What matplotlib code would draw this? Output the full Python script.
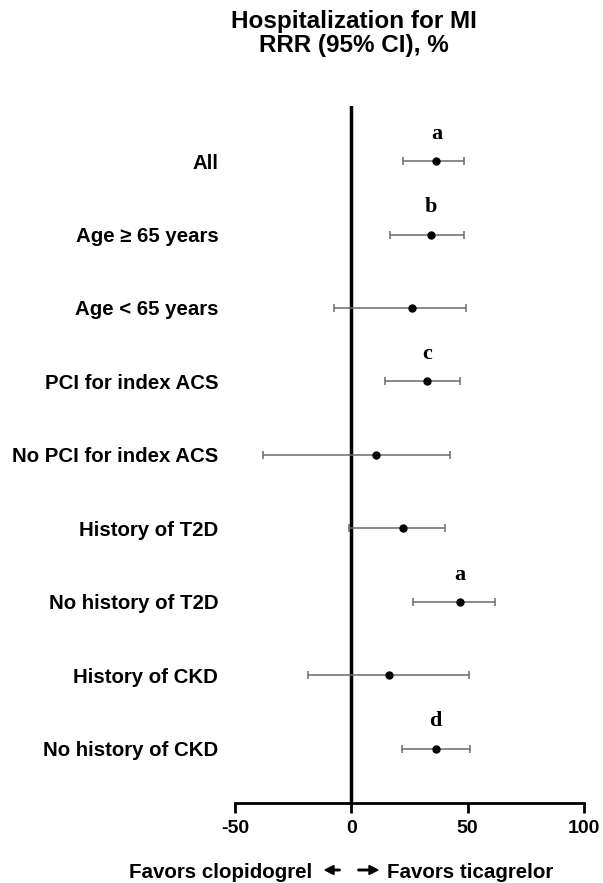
import matplotlib
matplotlib.use("Agg")
import matplotlib.pyplot as plt

# subgroup rows, top to bottom
labels = ["All", "Age \u2265 65 years", "Age < 65 years", "PCI for index ACS",
          "No PCI for index ACS", "History of T2D", "No history of T2D",
          "History of CKD", "No history of CKD"]
rrr = [36.6, 34.3, 26.2, 32.4, 10.7, 22.0, 46.8, 16.0, 36.3]
ci_low = [22.3, 16.7, -7.6, 14.6, -37.8, -0.9, 26.6, -18.6, 21.6]
ci_high = [48.3, 48.6, 49.3, 46.5, 42.2, 40.2, 61.6, 50.5, 50.8]
marks = ["a", "b", "", "c", "", "", "a", "", "d"]
xticks = [-50, 0, 50, 100]

plt.rcParams['font.family'] = ['Liberation Sans', 'DejaVu Sans']

fig = plt.figure(figsize=(6.03, 8.83), dpi=100)
W, H = 603, 883
ax = fig.add_axes([235 / W, 1 - 803 / H, (584 - 235) / W, (803 - 106) / H])

ypos = list(range(len(labels)))
err = [[r - lo for r, lo in zip(rrr, ci_low)], [hi - r for r, hi in zip(rrr, ci_high)]]
ax.errorbar(rrr, ypos, xerr=err, fmt='o', color='black', ms=5,
            ecolor='#6a6a6a', elinewidth=1.1, capsize=3, capthick=1.1, zorder=3)
ax.axvline(0, color='black', lw=2.5, zorder=2)

for y, x, m in zip(ypos, rrr, marks):
    if m:
        ax.text(x, y - 0.37, m, ha='center', va='center', fontsize=16,
                fontweight='bold', family='Liberation Serif')

ax.set_xlim(-50, 100)
ax.set_ylim(8.74, -0.75)
ax.set_yticks(ypos)
ax.set_yticklabels(labels, fontsize=14.7, fontweight='bold')
ax.tick_params(axis='y', length=0, pad=12)
ax.set_xticks(xticks)
ax.set_xticklabels([str(t) for t in xticks], fontsize=14, fontweight='bold')
ax.tick_params(axis='x', length=7, width=2, direction='out', pad=5)

for s in ['top', 'right', 'left']:
    ax.spines[s].set_visible(False)
ax.spines['bottom'].set_linewidth(2)

fig.text(354 / W, 1 - 28 / H, "Hospitalization for MI", ha='center', va='baseline',
         fontsize=17.5, fontweight='bold')
fig.text(354 / W, 1 - 52 / H, "RRR (95% CI), %", ha='center', va='baseline',
         fontsize=17.5, fontweight='bold')

ybase = 1 - 878 / H
fig.text(312 / W, ybase, "Favors clopidogrel", ha='right', va='baseline',
         fontsize=14.8, fontweight='bold')
fig.text(387 / W, ybase, "Favors ticagrelor", ha='left', va='baseline',
         fontsize=14.8, fontweight='bold')
yarr = 1 - 870 / H
for x0, dx in [(340, -15), (358, 20)]:
    fig.patches.append(matplotlib.patches.FancyArrow(
        x0 / W, yarr, dx / W, 0, width=1.5 / H, head_width=9 / H,
        head_length=9 / W, length_includes_head=True, color='black',
        transform=fig.transFigure, figure=fig))

fig.savefig("out.png", dpi=100)
